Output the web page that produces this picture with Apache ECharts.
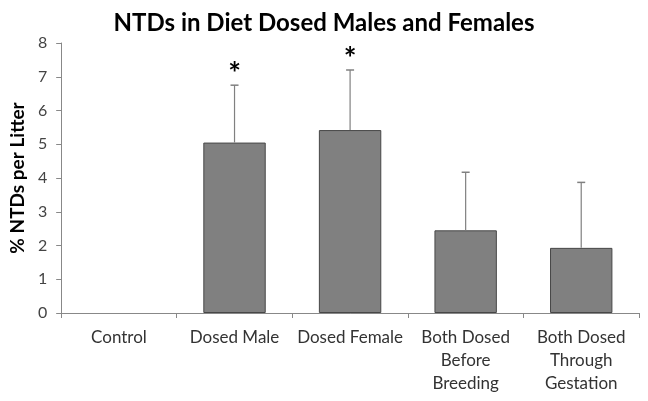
<!DOCTYPE html>
<html><head><meta charset="utf-8">
<script src="https://cdn.jsdelivr.net/npm/echarts@6/dist/echarts.min.js"></script>
<style>html,body{margin:0;padding:0;background:#fff}#c{width:648px;height:401px}</style>
</head><body><div id="c"></div>
<script>
var categories = ['Control', 'Dosed Male', 'Dosed Female', 'Both Dosed\nBefore\nBreeding', 'Both Dosed\nThrough\nGestation'];
var values = [0, 5.05, 5.42, 2.45, 1.93];
var errorTops = [0, 6.75, 7.2, 4.17, 3.87];
var significant = [false, true, true, false, false];
var yTicks = [0, 8, 1];

var chart = echarts.init(document.getElementById('c'));
var font = 'Lato, "Open Sans", sans-serif';
chart.setOption({
  animation: false,
  title: {
    text: 'NTDs in Diet Dosed Males and Females',
    left: 'center', top: 6,
    textStyle: {fontFamily: font, fontSize: 24, fontWeight: 'bold', color: '#000'}
  },
  grid: {left: 57, right: 9, top: 43, bottom: 88},
  xAxis: {
    type: 'category', data: categories,
    axisLine: {lineStyle: {color: '#888', width: 1}},
    axisTick: {show: true, length: 5, lineStyle: {color: '#888'}},
    axisLabel: {fontFamily: font, fontSize: 17, color: '#333', margin: 13, lineHeight: 23, interval: 0}
  },
  yAxis: {
    type: 'value', min: yTicks[0], max: yTicks[1], interval: yTicks[2],
    name: '% NTDs per Litter', nameLocation: 'middle', nameGap: 30,
    nameTextStyle: {fontFamily: font, fontSize: 19, fontWeight: 'bold', color: '#000'},
    axisLine: {show: true, lineStyle: {color: '#888'}},
    axisTick: {show: true, length: 5, lineStyle: {color: '#888'}},
    splitLine: {show: false},
    axisLabel: {fontFamily: font, fontSize: 16, color: '#444', margin: 14}
  },
  series: [{
    type: 'bar',
    data: values.map(function (v) { return v > 0 ? v : {value: v, itemStyle: {borderWidth: 0, opacity: 0}}; }),
    barWidth: '54%',
    itemStyle: {color: '#808080', borderColor: '#474747', borderWidth: 1}
  }, {
    type: 'custom',
    data: errorTops.map(function (t, i) { return [i, values[i], t, significant[i] ? 1 : 0]; }),
    renderItem: function (params, api) {
      var i = api.value(0);
      if (api.value(2) <= api.value(1)) return null;
      var base = api.coord([i, api.value(1)]);
      var top = api.coord([i, api.value(2)]);
      var children = [
        {type: 'line', shape: {x1: base[0], y1: base[1], x2: top[0], y2: top[1]}, style: {stroke: '#808080', lineWidth: 1.2}},
        {type: 'line', shape: {x1: top[0] - 4, y1: top[1], x2: top[0] + 4, y2: top[1]}, style: {stroke: '#808080', lineWidth: 1.5}}
      ];
      if (api.value(3)) {
        children.push({type: 'text', style: {text: '*', x: top[0], y: top[1] + 4, textAlign: 'center', textVerticalAlign: 'bottom', fontSize: 30, fontWeight: 'bold', fontFamily: font, fill: '#000'}});
      }
      return {type: 'group', children: children};
    },
    z: 3
  }]
});
</script></body></html>
